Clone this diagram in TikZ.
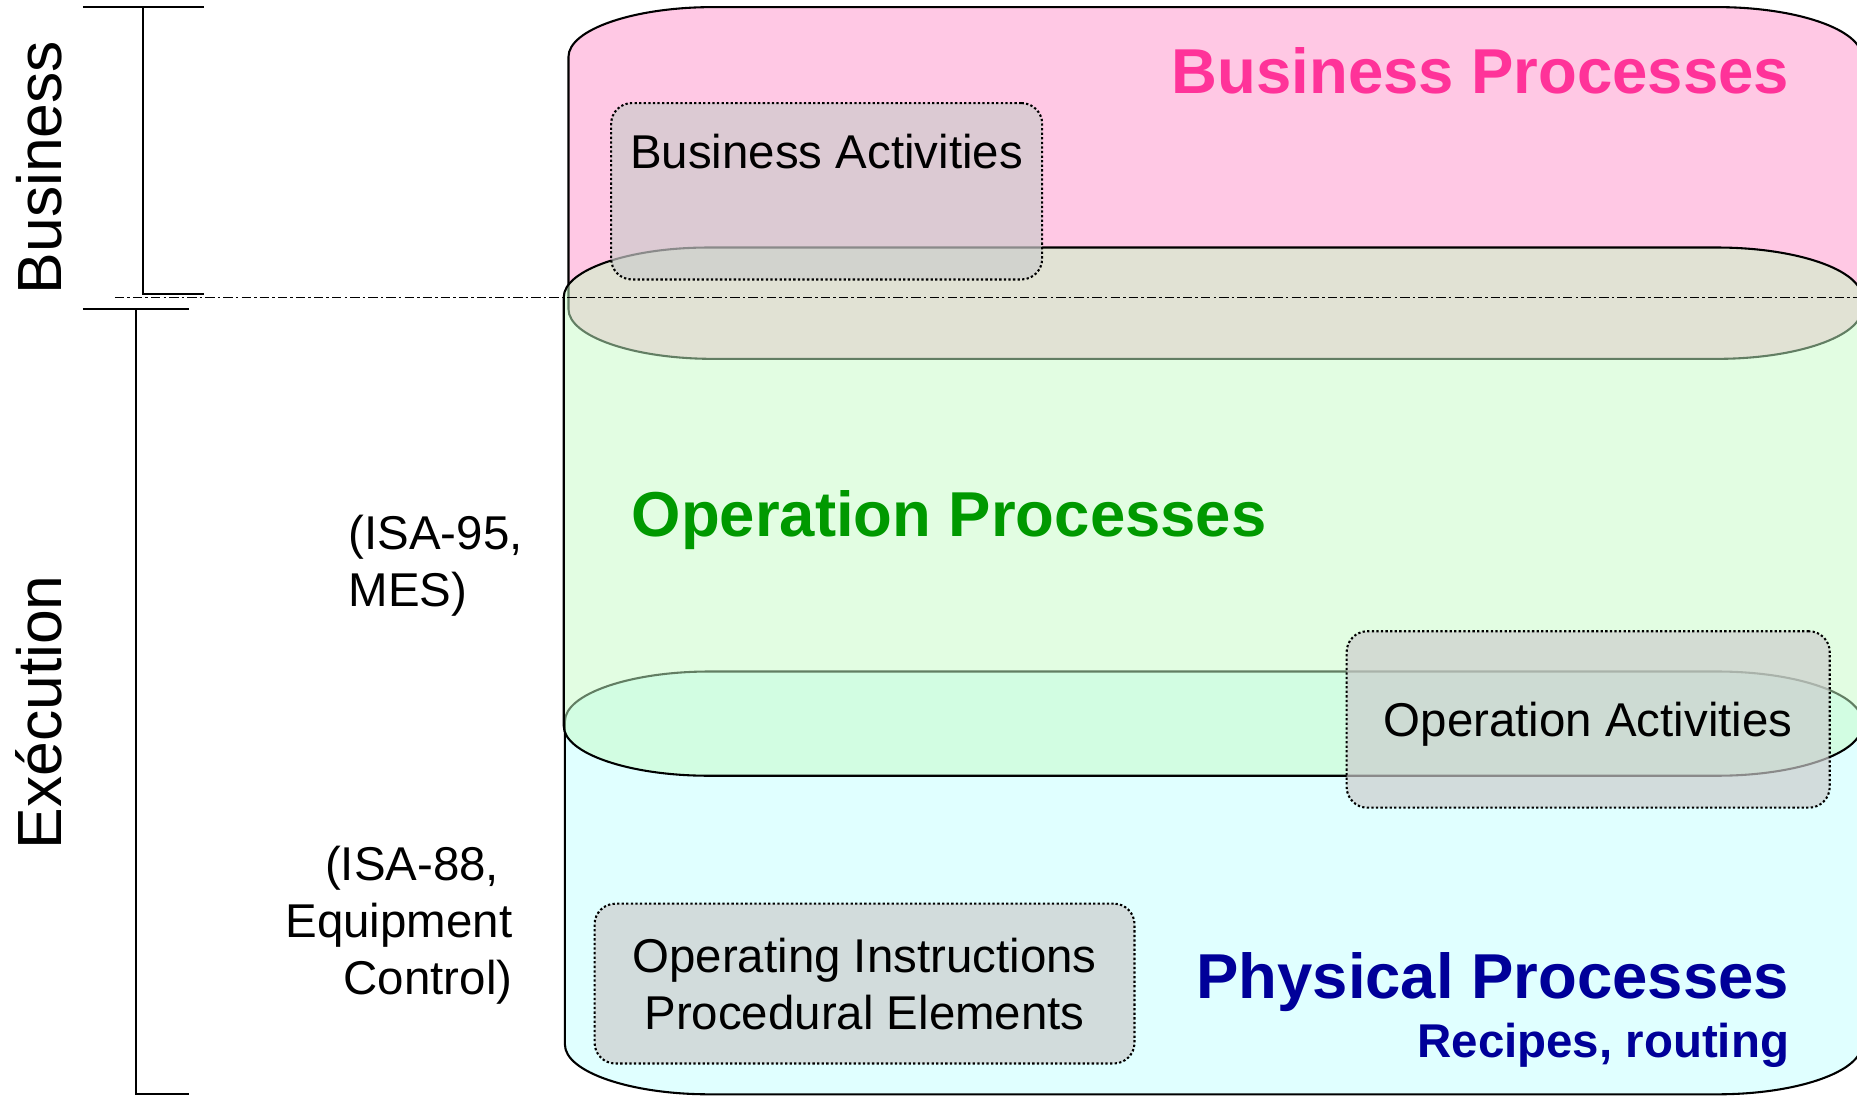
\documentclass[tikz,border=0pt]{standalone}
\usepackage{fontspec}
\setmainfont{Liberation Sans}
\usetikzlibrary{positioning}
\definecolor{bizpink}{RGB}{255,200,228}
\definecolor{bizpinktext}{RGB}{255,51,153}
\definecolor{opgreen}{RGB}{197,252,198}
\definecolor{opgreentext}{RGB}{0,153,0}
\definecolor{physcyan}{RGB}{224,255,255}
\definecolor{physbluetext}{RGB}{0,0,153}
\tikzset{
layer/.style={draw=black, line width=1pt}, % outline of each process layer
activity/.style={draw=black, line width=1pt, dash pattern=on 1.1pt off 1.1pt, fill=gray!40, fill opacity=0.68, text opacity=1, rounded corners=10pt, inner sep=0pt, align=center, font=\fontsize{22.8pt}{27.4pt}\selectfont},
tag/.style={font=\fontsize{22.8pt}{27.4pt}\selectfont, inner sep=0pt},
layertitle/.style={font=\fontsize{30.5pt}{36pt}\selectfont\bfseries, inner sep=0pt},
side/.style={font=\fontsize{30pt}{36pt}\selectfont, rotate=90, anchor=base, inner sep=0pt},
bracket/.style={line width=1pt},
split/.style={line width=0.6pt, dash pattern=on 4.5pt off 1.5pt on 1.2pt off 1.5pt},
}
% layer with elliptic corners: style, left, top, right, bottom
\newcommand{\procshape}[5]{%
  \draw[#1] (#2,#3+42) .. controls (#2,#3+19) and (#2+55,#3) .. (#2+122,#3)
    -- (#4-122,#3) .. controls (#4-55,#3) and (#4,#3+19) .. (#4,#3+42)
    -- (#4,#5-42) .. controls (#4,#5-19) and (#4-55,#5) .. (#4-122,#5)
    -- (#2+122,#5) .. controls (#2+55,#5) and (#2,#5-19) .. (#2,#5-42) -- cycle;}

\begin{document}
\begin{tikzpicture}[x=0.02cm, y=-0.02cm]
\useasboundingbox (0,0) rectangle (1568,926);
\clip (0,0) rectangle (1568,926);
% the three layers
\procshape{layer, fill=bizpink}{480}{6}{1572}{303}
\procshape{layer, fill=physcyan}{477}{567}{1572}{924}
\procshape{layer, fill=opgreen, fill opacity=0.5}{476}{209}{1572}{655}
% activities
\node[activity, minimum width=7.28cm, minimum height=2.98cm] (bizact) at (698,161.5) {};
\node[tag, below=0.54cm of bizact.north] (bizacttext) {Business Activities};
\node[activity, text depth=0pt, minimum width=8.16cm, minimum height=2.98cm] (opact) at (1341,607.5) {Operation Activities};
\node[activity, minimum width=9.12cm, minimum height=2.7cm] (instr) at (730,830.5) {Operating Instructions\\Procedural Elements};
% border between business and execution
\draw[split] (97,251) -- (1568,251);
% brackets
\draw[bracket] (70,6) -- (172,6) (121,6) -- (121,248) -- (172,248);
\draw[bracket] (70,261) -- (160,261) (115,261) -- (115,924) -- (160,924);
\node[side] (bizside) at (52,141.5) {Business};
\node[side] (execside) at (52,601.5) {Exécution};
% titles
\node[layertitle, text=bizpinktext, anchor=base east] (bizproc) at (1511,79) {Business Processes};
\node[layertitle, text=opgreentext, anchor=base west] (opproc) at (533,453) {Operation Processes};
\node[layertitle, text=physbluetext, anchor=base east] (physproc) at (1511,843) {Physical Processes};
\node[tag, font=\fontsize{22.8pt}{27.4pt}\selectfont\bfseries, text=physbluetext, anchor=base east] (recipes) at (1511,893) {Recipes, routing};
% standards
\node[tag, align=left, anchor=north west] (isa95) at (294,435) {(ISA-95,\\MES)};
\node[tag, align=right, anchor=north east] (isa88) at (433,714) {(ISA-88,\kern0.28em\\Equipment\\Control)};
\end{tikzpicture}
\end{document}
